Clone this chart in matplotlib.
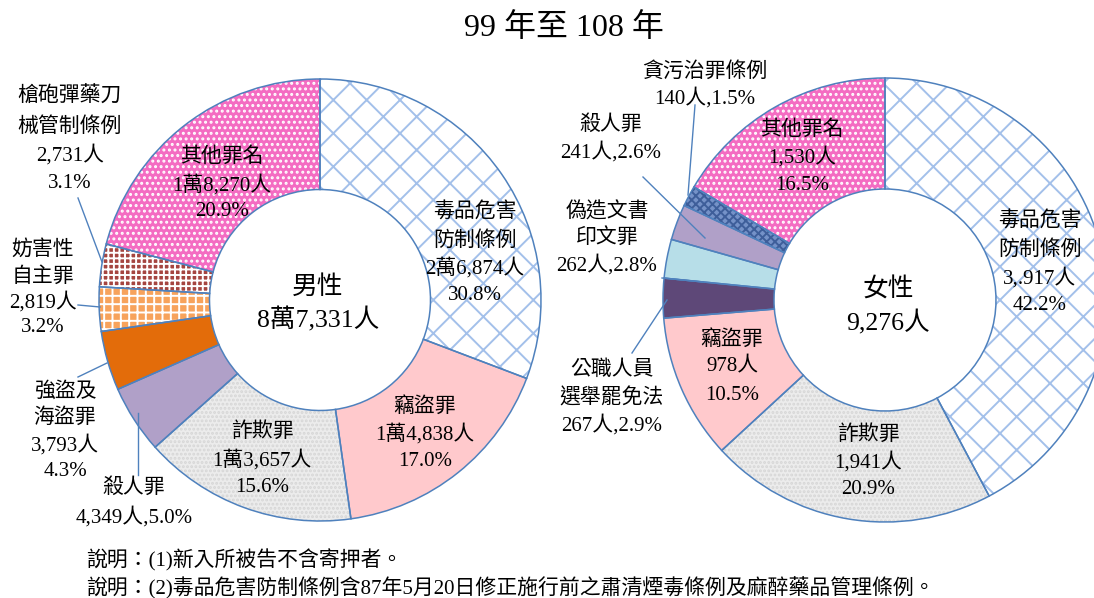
import matplotlib
matplotlib.use('Agg')
import matplotlib.pyplot as plt
from matplotlib.patches import Wedge

plt.rcParams['font.family'] = ['Liberation Serif', 'Noto Sans CJK TC']
plt.rcParams['hatch.linewidth'] = 1.4

# ---------------- data ----------------
title = '99 年至 108 年'

male_categories = ['毒品危害防制條例', '竊盜罪', '詐欺罪', '殺人罪', '強盜及海盜罪',
                   '妨害性自主罪', '槍砲彈藥刀械管制條例', '其他罪名']
male_values = [26874, 14838, 13657, 4349, 3793, 2819, 2731, 18270]
male_count_text = ['2萬6,874人', '1萬4,838人', '1萬3,657人', '4,349人', '3,793人',
                   '2,819人', '2,731人', '1萬8,270人']
male_pct_text = ['30.8%', '17.0%', '15.6%', '5.0%', '4.3%', '3.2%', '3.1%', '20.9%']
male_name_lines = [['毒品危害', '防制條例'], ['竊盜罪'], ['詐欺罪'], ['殺人罪'],
                   ['強盜及', '海盜罪'], ['妨害性', '自主罪'], ['槍砲彈藥刀', '械管制條例'],
                   ['其他罪名']]
male_center = ['男性', '8萬7,331人']

female_categories = ['毒品危害防制條例', '詐欺罪', '竊盜罪', '公職人員選舉罷免法',
                     '偽造文書印文罪', '殺人罪', '貪污治罪條例', '其他罪名']
female_values = [3917, 1941, 978, 267, 262, 241, 140, 1530]
female_count_text = ['3,.917人', '1,941人', '978人', '267人', '262人', '241人', '140人', '1,530人']
female_pct_text = ['42.2%', '20.9%', '10.5%', '2.9%', '2.8%', '2.6%', '1.5%', '16.5%']
female_name_lines = [['毒品危害', '防制條例'], ['詐欺罪'], ['竊盜罪'], ['公職人員', '選舉罷免法'],
                     ['偽造文書', '印文罪'], ['殺人罪'], ['貪污治罪條例'], ['其他罪名']]
female_center = ['女性', '9,276人']

notes = ['說明：(1)新入所被告不含寄押者。',
         '說明：(2)毒品危害防制條例含87年5月20日修正施行前之肅清煙毒條例及麻醉藥品管理條例。']

# ---------------- styles ----------------
# (facecolor, hatch, hatchcolor)
style = {
    '毒品危害防制條例': ('white', 'x', '#A3C0EA'),
    '竊盜罪': ('#FFC9CC', None, None),
    '詐欺罪': ('#ECECEC', '....', '#D6D6D6'),
    '殺人罪': ('#B0A0C8', None, None),
    '強盜及海盜罪': ('#E36C0A', None, None),
    '妨害性自主罪': ('#F7A35C', '++', 'white'),
    '槍砲彈藥刀械管制條例': ('#A54540', '+++', 'white'),
    '其他罪名': ('#F46CC2', '...', 'white'),
    '公職人員選舉罷免法': ('#5E4878', None, None),
    '偽造文書印文罪': ('#B7DEE8', None, None),
    '貪污治罪條例': ('#7592C8', 'xxxx', '#3E5E9A'),
}
OUTLINE = '#4F81BD'
LBL = 15

H = 598
fig = plt.figure(figsize=(10.94, 5.98), dpi=100)
ax = fig.add_axes([0, 0, 1, 1])


def Y(y):
    return H - y


def draw_donut(cx, cy, r, values, cats):
    wedges, _ = ax.pie(values, center=(cx, Y(cy)), radius=r, startangle=90,
                       counterclock=False, wedgeprops=dict(width=r * 0.5, linewidth=0))
    for w, c in zip(wedges, cats):
        fc, hatch, hc = style[c]
        w.set_facecolor(fc)
        w.set_zorder(1)
        if hatch:
            ov = Wedge(w.center, w.r, w.theta1, w.theta2, width=w.width,
                       facecolor='none', edgecolor=hc, hatch=hatch, linewidth=0, zorder=2)
            ax.add_patch(ov)
        ol = Wedge(w.center, w.r, w.theta1, w.theta2, width=w.width,
                   facecolor='none', edgecolor=OUTLINE, linewidth=1.1, zorder=3)
        ax.add_patch(ol)


draw_donut(320, 300, 221, male_values, male_categories)
draw_donut(885, 300, 222, female_values, female_categories)

ax.set_xlim(0, 1094)
ax.set_ylim(0, H)
ax.set_aspect('equal')
ax.axis('off')


def put(x, ys, lines, size=LBL):
    for yy, t in zip(ys, lines):
        ax.text(x, Y(yy), t, ha='center', va='center', fontsize=size, zorder=5)


def line(p1, p2):
    ax.plot([p1[0], p2[0]], [Y(p1[1]), Y(p2[1])], color=OUTLINE, lw=1, zorder=4)


# male labels
mlab = [(475, [213, 241, 268, 296], 'full'),
        (425, [407, 434, 461], 'full'),
        (262, [432, 460, 487], 'full'),
        (134, [488, 517], 'inline'),
        (65, [392, 418, 445, 472], 'full'),
        (43, [250, 277, 302, 328], 'full'),
        (70, [97, 127, 155, 183], 'full'),
        (222, [157, 185, 212], 'full')]
for i, (x, ys, mode) in enumerate(mlab):
    if mode == 'full':
        lines = male_name_lines[i] + [male_count_text[i], male_pct_text[i]]
    else:
        lines = male_name_lines[i] + [male_count_text[i] + ',' + male_pct_text[i]]
    put(x, ys, lines)

put(318, [287, 320], male_center, size=18.5)

line((138, 413), (138, 475))
line((107, 363), (78, 377))
line((100, 307), (78, 305))
line((102, 262), (78, 198))

# female labels
flab = [(1040, [222, 250, 278, 305], 'full'),
        (868, [435, 462, 490], 'full'),
        (732, [340, 367, 395], 'full'),
        (612, [370, 398, 425], 'inline'),
        (607, [212, 238, 265], 'inline'),
        (611, [125, 152], 'inline'),
        (705, [72, 98], 'inline'),
        (802, [130, 157, 185], 'full')]
for i, (x, ys, mode) in enumerate(flab):
    if mode == 'full':
        lines = female_name_lines[i] + [female_count_text[i], female_pct_text[i]]
    else:
        lines = female_name_lines[i] + [female_count_text[i] + ',' + female_pct_text[i]]
    put(x, ys, lines)

put(888, [290, 323], female_center, size=18.5)

line((688, 195), (695, 105))
line((705, 238), (643, 177))
line((703, 282), (662, 278))
line((667, 300), (632, 353))

# title and notes
ax.text(564, Y(28), title, ha='center', va='center', fontsize=23)
ax.text(86, Y(560), notes[0], ha='left', va='center', fontsize=15)
ax.text(86, Y(588), notes[1], ha='left', va='center', fontsize=15)

fig.savefig('out.png', dpi=100)
